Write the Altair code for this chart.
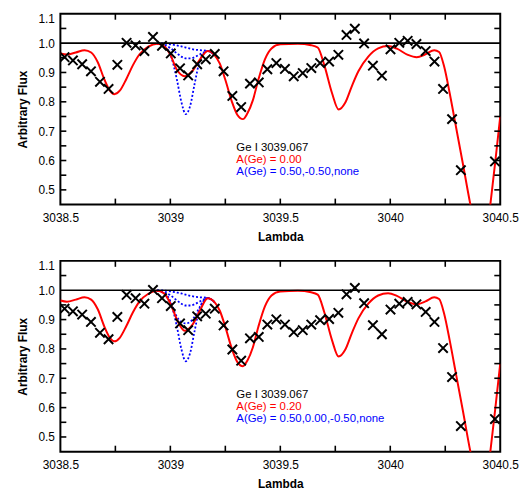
import altair as alt
import pandas as pd

X_DOMAIN = [3038.5, 3040.5]
Y_DOMAIN = [0.45, 1.1]

# observed spectrum (crosses)
OBS_X = [3038.519, 3038.557, 3038.599, 3038.639, 3038.680, 3038.719, 3038.759, 3038.801,
         3038.842, 3038.882, 3038.921, 3038.962, 3039.002, 3039.044, 3039.081, 3039.122,
         3039.161, 3039.202, 3039.242, 3039.282, 3039.322, 3039.362, 3039.402, 3039.441,
         3039.482, 3039.521, 3039.561, 3039.602, 3039.641, 3039.681, 3039.722, 3039.764,
         3039.801, 3039.839, 3039.881, 3039.921, 3039.962, 3040.001, 3040.041, 3040.079,
         3040.119, 3040.161, 3040.201, 3040.240, 3040.281, 3040.321, 3040.476]
OBS_TOP = [0.952, 0.941, 0.928, 0.904, 0.868, 0.844, 0.926, 1.001,
           0.992, 0.973, 1.021, 0.991, 0.965, 0.914, 0.890, 0.928,
           0.945, 0.963, 0.904, 0.820, 0.782, 0.862, 0.866, 0.911,
           0.932, 0.912, 0.887, 0.898, 0.915, 0.932, 0.937, 0.960,
           1.028, 1.049, 0.999, 0.923, 0.889, 0.979, 1.001, 1.008,
           0.997, 0.973, 0.937, 0.844, 0.741, 0.567, 0.597]
OBS_BOT = [0.937, 0.928, 0.917, 0.892, 0.855, 0.833, 0.909, 0.984,
           0.973, 0.954, 1.001, 0.973, 0.946, 0.887, 0.864, 0.911,
           0.920, 0.937, 0.880, 0.798, 0.760, 0.836, 0.841, 0.883,
           0.901, 0.883, 0.857, 0.864, 0.883, 0.898, 0.902, 0.923,
           0.986, 1.008, 0.956, 0.881, 0.850, 0.934, 0.954, 0.960,
           0.952, 0.926, 0.892, 0.803, 0.704, 0.537, 0.561]

# synthetic spectrum (red)
RED_X = [3038.50, 3038.53, 3038.57, 3038.61, 3038.64, 3038.67, 3038.70, 3038.725,
         3038.745, 3038.77, 3038.80, 3038.83, 3038.86, 3038.90, 3038.94, 3038.97,
         3039.00, 3039.03, 3039.065, 3039.10, 3039.135, 3039.17, 3039.20, 3039.225,
         3039.25, 3039.28, 3039.305, 3039.33, 3039.35, 3039.375, 3039.40, 3039.43,
         3039.46, 3039.50, 3039.58, 3039.64, 3039.67, 3039.70, 3039.735, 3039.765,
         3039.795, 3039.825, 3039.855, 3039.90, 3039.945, 3039.99, 3040.03, 3040.08,
         3040.12, 3040.16, 3040.20, 3040.222, 3040.245, 3040.27, 3040.30, 3040.33,
         3040.363, 3040.40, 3040.42, 3040.44, 3040.455, 3040.478, 3040.50]
RED_TOP = [0.965, 0.961, 0.968, 0.976, 0.968, 0.935, 0.876, 0.838,
           0.826, 0.838, 0.878, 0.925, 0.962, 0.988, 0.998, 0.990,
           0.960, 0.909, 0.887, 0.905, 0.945, 0.973, 0.960, 0.930,
           0.875, 0.800, 0.755, 0.741, 0.760, 0.805, 0.875, 0.945,
           0.982, 0.996, 0.998, 0.993, 0.985, 0.925, 0.830, 0.774,
           0.797, 0.853, 0.904, 0.954, 0.982, 0.990, 0.981, 0.960,
           0.952, 0.962, 0.976, 0.970, 0.920, 0.830, 0.710, 0.590,
           0.455, 0.330, 0.300, 0.350, 0.450, 0.600, 0.750]
RED_BOT = [0.965, 0.961, 0.968, 0.976, 0.968, 0.935, 0.876, 0.838,
           0.826, 0.838, 0.878, 0.925, 0.962, 0.988, 0.998, 0.990,
           0.955, 0.900, 0.862, 0.882, 0.932, 0.973, 0.960, 0.930,
           0.875, 0.800, 0.755, 0.741, 0.760, 0.805, 0.875, 0.945,
           0.982, 0.996, 0.998, 0.993, 0.985, 0.925, 0.830, 0.774,
           0.797, 0.853, 0.904, 0.954, 0.982, 0.990, 0.981, 0.960,
           0.952, 0.962, 0.976, 0.970, 0.920, 0.830, 0.710, 0.590,
           0.455, 0.330, 0.300, 0.350, 0.450, 0.600, 0.750]

# comparison syntheses (blue, dotted) around the Ge I line
BLUE_X = [3038.94, 3038.97, 3039.00, 3039.03, 3039.05, 3039.07, 3039.09, 3039.11,
          3039.135, 3039.17, 3039.20]
BLUE_P050 = [0.998, 0.990, 0.962, 0.875, 0.800, 0.758, 0.786, 0.860, 0.942, 0.973, 0.960]
BLUE_P000 = [0.998, 0.990, 0.960, 0.909, 0.892, 0.887, 0.892, 0.910, 0.945, 0.973, 0.960]
BLUE_M050 = [0.999, 0.995, 0.983, 0.965, 0.954, 0.948, 0.948, 0.952, 0.962, 0.973, 0.960]
BLUE_NONE = [1.000, 0.999, 0.996, 0.992, 0.989, 0.985, 0.981, 0.978, 0.976, 0.974, 0.960]

X_LABEL_VALUES = [3038.5, 3039.0, 3039.5, 3040.0, 3040.5]
X_TICK_VALUES = [3038.75, 3039.0, 3039.25, 3039.5, 3039.75, 3040.0, 3040.25]
Y_LABEL_VALUES = [0.5, 0.6, 0.7, 0.8, 0.9, 1.0, 1.1]
Y_TICK_VALUES = [0.5, 0.55, 0.6, 0.65, 0.7, 0.75, 0.8, 0.85, 0.9, 0.95, 1.05]

LEGEND_X = [3039.30, 3039.30, 3039.30]
LEGEND_Y = [0.643, 0.602, 0.561]
LEGEND_COLORS = ["black", "#ff0000", "#0000ff"]

FONT = "Liberation Sans"
CROSS = "M-1,-1L1,1M1,-1L-1,1"
W, H = 445, 193
TICK_LEN = 6


def panel(obs_y, red_y, blue_sets, legend_texts):
    xs = alt.Scale(domain=X_DOMAIN, nice=False, zero=False)
    ys = alt.Scale(domain=Y_DOMAIN, nice=False, zero=False)

    ax_bottom = alt.Axis(orient="bottom", values=X_LABEL_VALUES, format="~f",
                         title="Lambda", ticks=False, domain=False, grid=False,
                         labelPadding=8, titlePadding=8, labelFlush=False, labelOverlap=False,
                         titleFontWeight="bold", titleFontSize=12)
    ax_left = alt.Axis(orient="left", values=Y_LABEL_VALUES, format=".1f",
                       title="Arbitrary Flux", ticks=False, domain=False, grid=False,
                       labelPadding=6, titlePadding=9, labelFlush=True, labelOverlap=False,
                       titleFontWeight="bold", titleFontSize=12)

    blue_df = pd.concat([pd.DataFrame({"x": BLUE_X, "y": vals, "s": name})
                         for name, vals in blue_sets.items()], ignore_index=True)
    red_df = pd.DataFrame({"x": RED_X, "y": red_y})
    obs_df = pd.DataFrame({"x": OBS_X, "y": obs_y})
    one_df = pd.DataFrame({"y": [1.0]})
    txt_df = pd.DataFrame({"x": LEGEND_X, "y": LEGEND_Y, "t": legend_texts, "c": LEGEND_COLORS})
    xt_df = pd.DataFrame({"x": X_TICK_VALUES})
    yt_df = pd.DataFrame({"y": Y_TICK_VALUES})

    blue = alt.Chart(blue_df).mark_line(
        color="#0000ff", strokeDash=[2, 2], strokeWidth=1.8, clip=True, interpolate="monotone"
    ).encode(
        x=alt.X("x:Q", scale=xs, axis=ax_bottom),
        y=alt.Y("y:Q", scale=ys, axis=ax_left),
        detail="s:N",
    )
    red = alt.Chart(red_df).mark_line(
        color="#ff0000", strokeWidth=2, clip=True, interpolate="monotone"
    ).encode(
        x=alt.X("x:Q", scale=xs, axis=None),
        y=alt.Y("y:Q", scale=ys, axis=None),
    )
    rule = alt.Chart(one_df).mark_rule(color="black", strokeWidth=1.6).encode(
        y=alt.Y("y:Q", scale=ys, axis=None),
    )
    obs = alt.Chart(obs_df).mark_point(
        shape=CROSS, filled=False, color="black", strokeWidth=2, size=90, opacity=1, clip=True
    ).encode(
        x=alt.X("x:Q", scale=xs, axis=None),
        y=alt.Y("y:Q", scale=ys, axis=None),
    )
    txt = alt.Chart(txt_df).mark_text(
        align="left", baseline="middle", fontSize=11.5, font=FONT
    ).encode(
        x=alt.X("x:Q", scale=xs, axis=None),
        y=alt.Y("y:Q", scale=ys, axis=None),
        text="t:N",
        color=alt.Color("c:N", scale=None),
    )
    # inward frame ticks, positioned by the shared scales
    tick_style = dict(color="black", strokeWidth=1.6)
    t_top = alt.Chart(xt_df).mark_rule(**tick_style).encode(
        x=alt.X("x:Q", scale=xs, axis=None), y=alt.value(0), y2=alt.value(TICK_LEN))
    t_bot = alt.Chart(xt_df).mark_rule(**tick_style).encode(
        x=alt.X("x:Q", scale=xs, axis=None), y=alt.value(H), y2=alt.value(H - TICK_LEN))
    t_left = alt.Chart(yt_df).mark_rule(**tick_style).encode(
        y=alt.Y("y:Q", scale=ys, axis=None), x=alt.value(0), x2=alt.value(TICK_LEN))
    t_right = alt.Chart(yt_df).mark_rule(**tick_style).encode(
        y=alt.Y("y:Q", scale=ys, axis=None), x=alt.value(W), x2=alt.value(W - TICK_LEN))

    return alt.layer(blue, red, rule, obs, txt, t_top, t_bot, t_left, t_right).resolve_axis(
        x="independent", y="independent"
    ).properties(width=W, height=H)


top = panel(OBS_TOP, RED_TOP,
            {"0.50": BLUE_P050, "-0.50": BLUE_M050, "none": BLUE_NONE},
            ["Ge I 3039.067", "A(Ge) = 0.00", "A(Ge) = 0.50,-0.50,none"])
bottom = panel(OBS_BOT, RED_BOT,
               {"0.50": BLUE_P050, "0.00": BLUE_P000, "-0.50": BLUE_M050, "none": BLUE_NONE},
               ["Ge I 3039.067", "A(Ge) = 0.20", "A(Ge) = 0.50,0.00,-0.50,none"])

chart = alt.vconcat(top, bottom, spacing=16).properties(
    padding={"left": 7, "top": 1, "right": 0, "bottom": 0}
).configure_view(
    stroke="black", strokeWidth=2
).configure_axis(
    labelFont=FONT, titleFont=FONT, labelFontSize=12, labelColor="black",
    titleColor="black"
)

chart.save("out.html", embed_options={"renderer": "svg", "actions": False})
